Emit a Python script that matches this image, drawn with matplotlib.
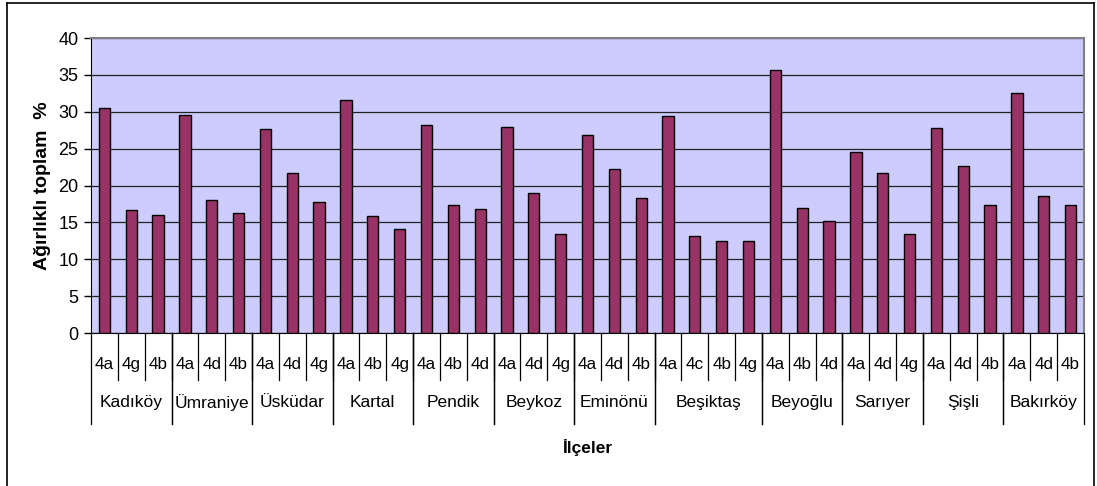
"""Ağırlıklı toplam % by district and sub-group"""

import matplotlib.pyplot as plt
from matplotlib.lines import Line2D

plt.rcParams['font.family'] = ['Liberation Sans', 'DejaVu Sans']

districts = ['Kadıköy', 'Ümraniye', 'Üsküdar', 'Kartal', 'Pendik', 'Beykoz',
             'Eminönü', 'Beşiktaş', 'Beyoğlu', 'Sarıyer', 'Şişli', 'Bakırköy']
codes = [['4a', '4g', '4b'], ['4a', '4d', '4b'], ['4a', '4d', '4g'],
         ['4a', '4b', '4g'], ['4a', '4b', '4d'], ['4a', '4d', '4g'],
         ['4a', '4d', '4b'], ['4a', '4c', '4b', '4g'], ['4a', '4b', '4d'],
         ['4a', '4d', '4g'], ['4a', '4d', '4b'], ['4a', '4d', '4b']]
values = [[30.5, 16.7, 16.0], [29.6, 18.1, 16.3], [27.6, 21.7, 17.7],
          [31.6, 15.8, 14.05], [28.2, 17.4, 16.8], [28.0, 19.0, 13.4],
          [26.9, 22.2, 18.3], [29.4, 13.15, 12.5, 12.5], [35.7, 17.0, 15.2],
          [24.6, 21.7, 13.4], [27.8, 22.6, 17.4], [32.5, 18.6, 17.4]]

labels = [c for group in codes for c in group]
heights = [v for group in values for v in group]
x = list(range(len(heights)))

fig = plt.figure(figsize=(10.97, 4.86), dpi=100)
ax = fig.add_axes([91 / 1097, 1 - 333 / 486, (1084 - 91) / 1097, (333 - 38) / 486])

# outer chart border (bottom is cut off in the original)
for xs, ys in [([7, 7], [0, 483]), ([7, 1094], [483, 483]), ([1094, 1094], [0, 483])]:
    fig.add_artist(Line2D([v / 1097 for v in xs], [v / 486 for v in ys],
                          color='black', lw=1.2))

ax.set_facecolor('#CCCCFF')
ax.bar(x, heights, width=0.42, color='#993366', edgecolor='black', linewidth=1,
       zorder=3)

ax.set_xlim(-0.5, len(heights) - 0.5)
ax.set_ylim(0, 40)
ax.set_yticks(range(0, 41, 5))
ax.yaxis.grid(True, color='#222222', linewidth=0.9)
ax.set_axisbelow(True)
ax.tick_params(axis='y', length=5, width=1, labelsize=13, pad=4)
ax.set_xticks([])

for side in ['top', 'right']:
    ax.spines[side].set_color('#808080')
    ax.spines[side].set_linewidth(1.5)
ax.spines['left'].set_color('black')
ax.spines['bottom'].set_color('black')

ax.set_ylabel('Ağırlıklı toplam  %', fontsize=14, fontweight='bold', labelpad=5)

trans = ax.get_xaxis_transform()
# category separators and labels
for i, lab in enumerate(labels):
    ax.text(i, -0.108, lab, transform=trans, ha='center', va='center',
            fontsize=12.3)
    if i > 0:
        ax.plot([i - 0.5, i - 0.5], [0, -0.16], transform=trans, color='black',
                lw=0.9, clip_on=False)

start = 0
for name, group in zip(districts, codes):
    end = start + len(group)
    ax.text((start + end - 1) / 2, -0.235, name, transform=trans, ha='center',
            va='center', fontsize=12.5)
    for edge in [start - 0.5, end - 0.5]:
        ax.plot([edge, edge], [0, -0.31], transform=trans, color='black',
                lw=0.9, clip_on=False)
    start = end

ax.text(0.5, -0.389, 'İlçeler', transform=ax.transAxes, ha='center', va='center',
        fontsize=12.5, fontweight='bold')

fig.savefig('out.png', dpi=100)
